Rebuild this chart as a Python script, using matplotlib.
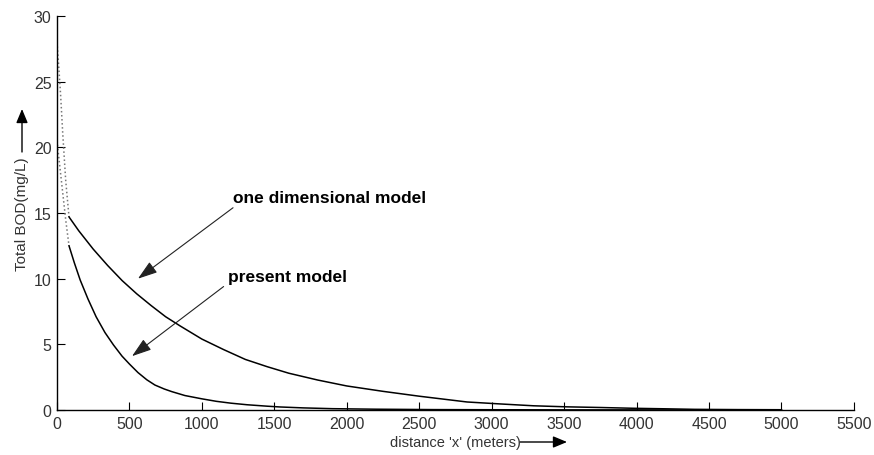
import matplotlib
matplotlib.use('Agg')
from matplotlib import pyplot as plt

plt.rcParams['font.family'] = ['Liberation Sans', 'DejaVu Sans']

# one dimensional model (solid part)
x_uno = [83, 150, 250, 350, 450, 550, 650, 750, 850, 1000, 1150, 1300, 1450,
         1600, 1800, 2000, 2250, 2500, 2830, 3060, 3290, 3520, 3750, 3980,
         4200, 4400, 4700, 5000]
y_uno = [14.7, 13.65, 12.25, 11.0, 9.85, 8.85, 7.95, 7.1, 6.4, 5.4, 4.6, 3.85,
         3.3, 2.8, 2.28, 1.83, 1.42, 1.05, 0.61, 0.46, 0.32, 0.24, 0.19, 0.13,
         0.09, 0.05, 0.03, 0.02]
# tramo punteado inicial
x_uno_p = [0, 10, 25, 40, 60, 83]
y_uno_p = [28.0, 26.5, 24.0, 21.0, 17.5, 14.7]

# present model
x_pres = [83, 120, 160, 214, 270, 331, 390, 449, 500, 559, 620, 676, 740, 792,
          883, 1000, 1100, 1200, 1311, 1450, 1540, 1700, 1900, 2200, 2600,
          3000, 3500, 4000, 4500, 5000]
y_pres = [12.5, 11.2, 9.9, 8.45, 7.1, 5.9, 4.95, 4.1, 3.5, 2.85, 2.3, 1.9, 1.6,
          1.4, 1.1, 0.85, 0.66, 0.52, 0.4, 0.29, 0.23, 0.16, 0.1, 0.06, 0.03,
          0.02, 0.01, 0.01, 0.0, 0.0]
x_pres_p = [0, 20, 40, 60, 83]
y_pres_p = [20.5, 18.5, 16.5, 14.5, 12.5]

xticks = list(range(0, 5501, 500))
yticks = list(range(0, 31, 5))

fig = plt.figure(figsize=(8.74, 4.56), dpi=100)
ax = fig.add_axes([0.0652, 0.0987, 0.9118, 0.864])

ax.plot(x_uno_p, y_uno_p, ':', color='#777777', lw=1.1)
ax.plot(x_pres_p, y_pres_p, ':', color='#777777', lw=1.1)
ax.plot(x_uno, y_uno, '-', color='black', lw=1.1)
ax.plot(x_pres, y_pres, '-', color='black', lw=1.1)

ax.set_xlim(0, 5500)
ax.set_ylim(0, 30)
ax.set_xticks(xticks)
ax.set_yticks(yticks)
ax.tick_params(direction='in', length=5.5, width=0.8, labelsize=11.5,
               labelcolor='#333333', pad=4)
for lado in ['top', 'right']:
    ax.spines[lado].set_visible(False)
for lado in ['left', 'bottom']:
    ax.spines[lado].set_linewidth(1.0)

# Textos de los modelos
ax.text(1215, 16.2, 'one dimensional model', fontsize=12.5, fontweight='bold',
        va='center', ha='left')
ax.text(1180, 10.2, 'present model', fontsize=12.5, fontweight='bold',
        va='center', ha='left')

# Flechas
flecha = dict(arrowstyle='-|>,head_length=0.6,head_width=0.2',
              mutation_scale=20, lw=0.8, color='#222222',
              shrinkA=0, shrinkB=0)
ax.annotate('', xy=(559, 10.0), xytext=(1215, 15.4), arrowprops=flecha)
ax.annotate('', xy=(518, 4.1), xytext=(1150, 9.4), arrowprops=flecha)

# Etiquetas de los ejes
fig.text(455 / 874, 1 - 443 / 456, "distance 'x' (meters)", ha='center',
         va='center', fontsize=10.5, color='#333333')
fig.text(22 / 874, 1 - 214 / 456, 'Total BOD(mg/L)', ha='center', va='center',
         rotation=90, fontsize=11, color='#333333')
flecha_eje = dict(arrowstyle='-|>,head_length=0.6,head_width=0.25',
                  mutation_scale=14, lw=1.0, color='black',
                  shrinkA=0, shrinkB=0)
ax.annotate('', xy=(567, 456 - 443), xytext=(520, 456 - 443),
            xycoords='figure pixels', textcoords='figure pixels',
            arrowprops=flecha_eje)
ax.annotate('', xy=(22, 456 - 110), xytext=(22, 456 - 153),
            xycoords='figure pixels', textcoords='figure pixels',
            arrowprops=flecha_eje)

fig.savefig('out.png', dpi=100)
